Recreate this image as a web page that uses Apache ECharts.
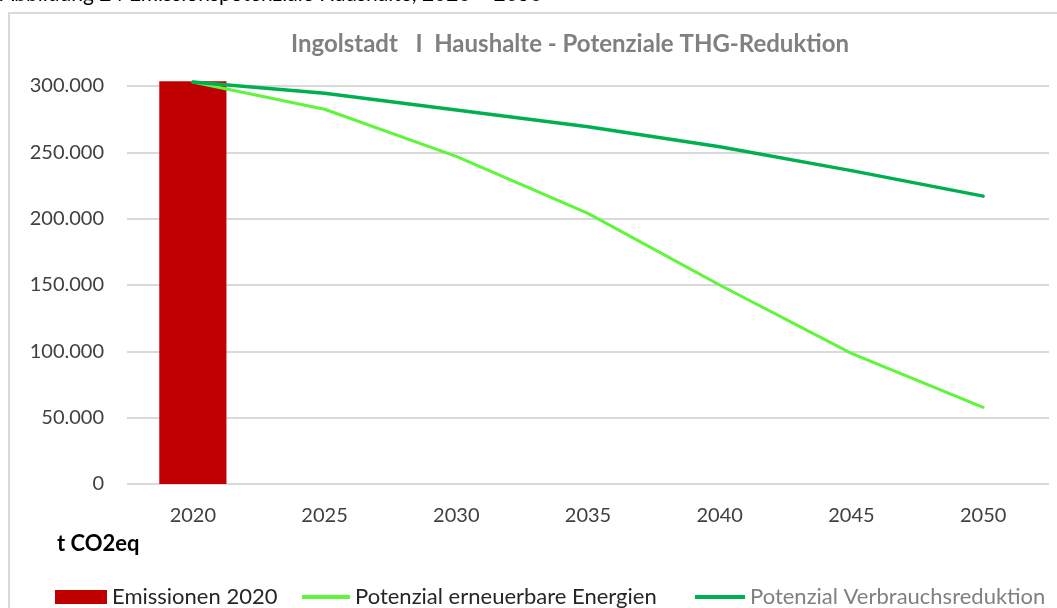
<!DOCTYPE html>
<html>
<head>
<meta charset="utf-8">
<script src="https://cdn.jsdelivr.net/npm/echarts@6/dist/echarts.min.js"></script>
<style>
  html, body { margin: 0; padding: 0; background: #ffffff; }
  #chart { width: 1057px; height: 608px; }
</style>
</head>
<body>
<div id="chart"></div>
<script>
// data
const years = ['2020', '2025', '2030', '2035', '2040', '2045', '2050'];
const emissionen2020 = [303500, null, null, null, null, null, null];
const erneuerbare = [303000, 282500, 247000, 204000, 150000, 98500, 57800];
const verbrauch = [303000, 294500, 281900, 269300, 254200, 236200, 217000];
const yTicks = [0, 50000, 100000, 150000, 200000, 250000, 300000];

const font = 'Lato';

function formatDe(v) {
  return String(v).replace(/\B(?=(\d{3})+(?!\d))/g, '.');
}

const chart = echarts.init(document.getElementById('chart'));

const option = {
  backgroundColor: '#ffffff',
  animation: false,
  title: {
    text: 'Ingolstadt   I  Haushalte - Potenziale THG-Reduktion',
    left: 565,
    textAlign: 'center',
    top: 27,
    textStyle: {
      color: '#808080',
      fontFamily: font,
      fontWeight: 'bold',
      fontSize: 24,
    },
  },
  graphic: [
    {
      type: 'rect',
      shape: { x: 9, y: 13, width: 1100, height: 700 },
      style: { fill: 'none', stroke: '#d9d9d9', lineWidth: 2 },
      silent: true,
    },
    {
      type: 'text',
      left: 0,
      top: -16,
      style: {
        text: 'Abbildung 24 Emissionspotenziale Haushalte, 2020 – 2050',
        fill: '#000000',
        font: '21px ' + font,
      },
      silent: true,
    },
    {
      type: 'text',
      left: 57,
      top: 533,
      style: {
        text: 't CO2eq',
        fill: '#000000',
        font: 'bold 22px ' + font,
      },
      silent: true,
    },
  ],
  grid: {
    left: 127,
    right: 8,
    top: 86,
    bottom: 124,
  },
  legend: [
    {
      data: ['Emissionen 2020'],
      left: 50,
      top: 581,
      itemWidth: 52,
      itemHeight: 14,
      icon: 'rect',
      textStyle: { color: '#262626', fontFamily: font, fontSize: 22 },
    },
    {
      data: ['Potenzial erneuerbare Energien'],
      left: 297,
      top: 581,
      itemWidth: 48,
      itemHeight: 4,
      icon: 'rect',
      textStyle: { color: '#262626', fontFamily: font, fontSize: 22 },
    },
    {
      data: ['Potenzial Verbrauchsreduktion'],
      left: 690,
      top: 581,
      itemWidth: 50,
      itemHeight: 4,
      icon: 'rect',
      textStyle: { color: '#808080', fontFamily: font, fontSize: 22 },
    },
  ],
  xAxis: {
    type: 'category',
    data: years,
    boundaryGap: true,
    axisLine: { show: false },
    axisTick: { show: false },
    axisLabel: {
      color: '#404040',
      fontFamily: font,
      fontSize: 20,
      margin: 22,
    },
  },
  yAxis: {
    type: 'value',
    min: yTicks[0],
    max: yTicks[yTicks.length - 1],
    interval: yTicks[1] - yTicks[0],
    axisLine: { show: false },
    axisTick: { show: false },
    axisLabel: {
      color: '#404040',
      fontFamily: font,
      fontSize: 20,
      margin: 23,
      formatter: formatDe,
    },
    splitLine: {
      lineStyle: { color: '#d9d9d9', width: 2 },
    },
  },
  series: [
    {
      name: 'Emissionen 2020',
      type: 'bar',
      data: emissionen2020,
      barWidth: '51%',
      clip: false,
      itemStyle: { color: '#c00000' },
    },
    {
      name: 'Potenzial erneuerbare Energien',
      type: 'line',
      data: erneuerbare,
      clip: false,
      symbol: 'none',
      lineStyle: { color: '#5ef53a', width: 3, cap: 'round' },
      itemStyle: { color: '#5ef53a' },
    },
    {
      name: 'Potenzial Verbrauchsreduktion',
      type: 'line',
      data: verbrauch,
      clip: false,
      symbol: 'none',
      lineStyle: { color: '#00b050', width: 3.5, cap: 'round' },
      itemStyle: { color: '#00b050' },
    },
  ],
};

chart.setOption(option);
</script>
</body>
</html>
